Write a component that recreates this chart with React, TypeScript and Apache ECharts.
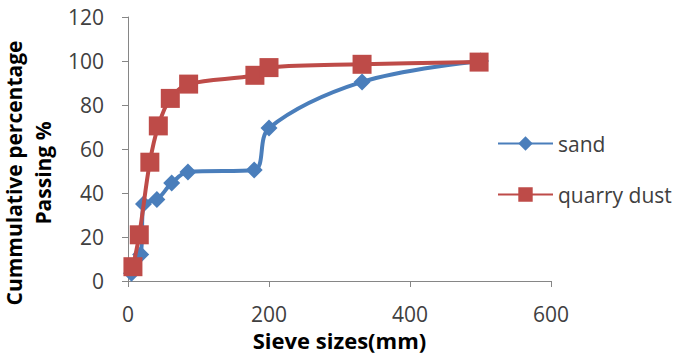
import React, { useEffect, useRef } from "react";
import * as echarts from "echarts";

const sandX = [5, 18, 22, 41, 62, 85, 179, 200, 332, 500];
const sandY = [3.5, 12, 35, 37, 44.5, 49.5, 50.5, 69.5, 90.5, 100];
const dustX = [7, 16, 31, 43, 60, 86, 180, 200, 332, 498];
const dustY = [6.5, 21, 54, 70.5, 83, 89.5, 93.5, 97, 98.5, 99.5];
const seriesNames = ["sand", "quarry dust"];
const xTitle = "Sieve sizes(mm)";
const yTitle = "Cummulative percentage\nPassing %";

const FONT = "'Open Sans', 'Liberation Sans', sans-serif";

export default function App() {
  const ref = useRef<HTMLDivElement>(null);
  useEffect(() => {
    if (!ref.current) return;
    const chart = echarts.init(ref.current, undefined, { renderer: "svg" });
    const axisLine = { show: true, lineStyle: { color: "#868686", width: 1 } };
    chart.setOption({
      animation: false,
      backgroundColor: "#ffffff",
      grid: { left: 128, top: 17, width: 423, height: 264, outerBoundsMode: "none", containLabel: false },
      legend: {
        orient: "vertical",
        left: 492,
        top: 128,
        itemWidth: 55,
        itemHeight: 18,
        itemGap: 30,
        textStyle: { fontFamily: FONT, fontSize: 21, color: "#404040" },
        data: seriesNames,
      },
      xAxis: {
        type: "value",
        min: 0,
        max: 600,
        interval: 200,
        axisLine,
        axisTick: { show: true, length: 6, lineStyle: { color: "#868686" } },
        splitLine: { show: false },
        axisLabel: { margin: 22, fontFamily: FONT, fontSize: 21, color: "#404040" },
        name: xTitle,
        nameLocation: "middle",
        nameGap: 35,
        nameTextStyle: { fontFamily: FONT, fontSize: 22, fontWeight: "bold", color: "#000" },
      },
      yAxis: {
        type: "value",
        min: 0,
        max: 120,
        interval: 20,
        axisLine,
        axisTick: { show: true, length: 6, lineStyle: { color: "#868686" } },
        splitLine: { show: false },
        axisLabel: { margin: 24, fontFamily: FONT, fontSize: 21, color: "#404040" },
        name: yTitle,
        nameLocation: "middle",
        nameRotate: 90,
        nameGap: 58,
        nameTextStyle: {
          fontFamily: FONT,
          fontSize: 21,
          fontWeight: "bold",
          color: "#000",
          lineHeight: 29,
          padding: [0, 48, 0, 0],
        },
      },
      series: [
        {
          name: seriesNames[0],
          type: "line",
          smooth: 0.35,
          data: sandX.map((x, i) => [x, sandY[i]]),
          symbol: "diamond",
          symbolSize: 17,
          itemStyle: { color: "#4A7EBB" },
          lineStyle: { color: "#4A7EBB", width: 4 },
          z: 2,
        },
        {
          name: seriesNames[1],
          type: "line",
          smooth: 0.35,
          data: dustX.map((x, i) => [x, dustY[i]]),
          symbol: "rect",
          symbolSize: 19,
          itemStyle: { color: "#BE4B48" },
          lineStyle: { color: "#BE4B48", width: 4 },
          z: 3,
        },
      ],
    });
    return () => chart.dispose();
  }, []);
  return (
    <div
      ref={ref}
      style={{ position: "fixed", left: 0, top: 0, width: 683, height: 358, background: "#fff" }}
    />
  );
}
